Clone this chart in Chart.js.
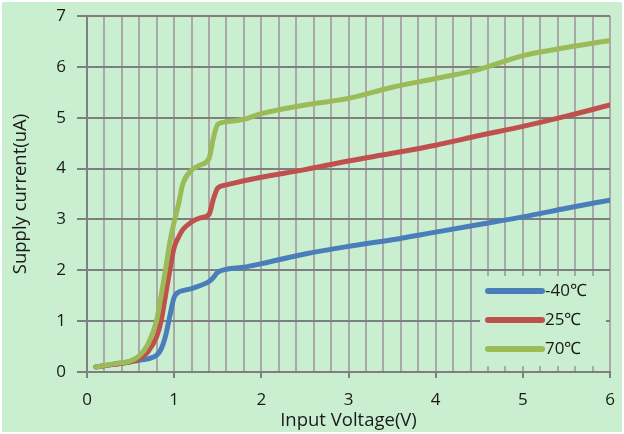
<!DOCTYPE html>
<html>
<head>
<meta charset="utf-8">
<script src="https://cdn.jsdelivr.net/npm/chart.js@4/dist/chart.umd.min.js"></script>
<style>
  html, body { margin: 0; padding: 0; background: #fff; }
  #wrap { position: absolute; left: 2px; top: 2px; width: 620px; height: 430px; background: #c9efd0; }
</style>
</head>
<body>
<div id="wrap"><canvas id="chart" width="620" height="430"></canvas></div>
<script>
/* global Chart */

const VOLTAGE = [0.1, 0.3, 0.5, 0.6, 0.7, 0.8, 0.85, 0.9, 0.95, 1.0, 1.05, 1.1, 1.2, 1.3, 1.4,
    1.45, 1.5, 1.6, 1.8, 2.0, 2.5, 3, 3.5, 4, 4.5, 5, 5.5, 6];

const CURRENT_M40 = [0.1, 0.15, 0.2, 0.23, 0.26, 0.33, 0.45, 0.7, 1.1, 1.47, 1.57, 1.6, 1.64, 1.7, 1.78,
    1.86, 1.96, 2.02, 2.06, 2.13, 2.32, 2.47, 2.6, 2.75, 2.9, 3.05, 3.22, 3.38];
const CURRENT_25 = [0.1, 0.15, 0.2, 0.26, 0.4, 0.7, 1.0, 1.5, 2.0, 2.45, 2.65, 2.8, 2.95, 3.03, 3.1,
    3.4, 3.62, 3.68, 3.76, 3.83, 3.98, 4.15, 4.3, 4.46, 4.65, 4.83, 5.03, 5.25];
const CURRENT_70 = [0.1, 0.16, 0.22, 0.32, 0.55, 1.02, 1.5, 2.0, 2.55, 2.95, 3.3, 3.7, 3.97, 4.07, 4.2,
    4.6, 4.87, 4.92, 4.97, 5.08, 5.25, 5.38, 5.6, 5.77, 5.95, 6.22, 6.38, 6.52];

const SERIES_LABELS = ['-40℃', '25℃', '70℃'];
const SERIES_COLORS = ['#4a7ebb', '#c0504d', '#9bbb59'];

const FONT = "'Open Sans', sans-serif";
const BG = '#c9efd0';
const TEXT = '#1a1a1a';

const toPoints = ys => ys.map((y, i) => ({ x: VOLTAGE[i], y }));

// legend drawn in the lower right of the plot, on a plain box hiding the grid
const insideLegend = {
    id: 'insideLegend',
    beforeDatasetsDraw(chart) {
        const { ctx, chartArea } = chart;
        ctx.save();
        ctx.fillStyle = BG;
        ctx.fillRect(chartArea.right - 130, chartArea.bottom - 96, 126, 90);
        ctx.restore();
    },
    afterDatasetsDraw(chart) {
        const { ctx, chartArea } = chart;
        const x0 = chartArea.right - 122, y0 = chartArea.bottom - 81;
        ctx.save();
        ctx.font = `17px ${FONT}`;
        ctx.textBaseline = 'middle';
        chart.data.datasets.forEach((ds, i) => {
            const y = y0 + i * 29;
            ctx.strokeStyle = ds.borderColor;
            ctx.lineWidth = 6;
            ctx.lineCap = 'round';
            ctx.beginPath();
            ctx.moveTo(x0, y);
            ctx.lineTo(x0 + 54, y);
            ctx.stroke();
            ctx.fillStyle = TEXT;
            ctx.fillText(ds.label, x0 + 57, y);
        });
        ctx.restore();
    }
};

new Chart(document.getElementById('chart'), {
    type: 'line',
    data: {
        datasets: [
            { label: SERIES_LABELS[0], data: toPoints(CURRENT_M40), borderColor: SERIES_COLORS[0], order: 3 },
            { label: SERIES_LABELS[1], data: toPoints(CURRENT_25), borderColor: SERIES_COLORS[1], order: 2 },
            { label: SERIES_LABELS[2], data: toPoints(CURRENT_70), borderColor: SERIES_COLORS[2], order: 1 },
        ]
    },
    options: {
        responsive: false,
        animation: false,
        layout: { padding: { left: 0, top: 14, right: 12, bottom: 0 } },
        elements: {
            point: { radius: 0 },
            line: { borderWidth: 5, cubicInterpolationMode: 'monotone', borderCapStyle: 'round', borderJoinStyle: 'round' }
        },
        scales: {
            x: {
                type: 'linear',
                min: 0, max: 6,
                afterFit(s) { s.height = 60; s.paddingLeft = 0; s.paddingRight = 0; },
                grid: {
                    color: '#a9a9a9',
                    lineWidth: 2,
                    tickLength: 6,
                    tickColor: c => Math.abs(c.tick.value - Math.round(c.tick.value)) < 1e-6 ? '#7f7f7f' : 'rgba(0,0,0,0)',
                },
                border: { color: '#7f7f7f', width: 2 },
                ticks: {
                    stepSize: 0.2,
                    autoSkip: false,
                    maxRotation: 0,
                    padding: 12,
                    color: TEXT,
                    font: { family: FONT, size: 17 },
                    callback: v => Math.abs(v - Math.round(v)) < 1e-6 ? String(Math.round(v)) : ''
                },
                title: {
                    display: true,
                    text: 'Input Voltage(V)',
                    color: TEXT,
                    font: { family: FONT, size: 18.5 },
                    padding: { top: 0, bottom: 0 }
                }
            },
            y: {
                min: 0, max: 7,
                afterFit(s) { s.width = 85; s.paddingTop = 0; s.paddingBottom = 0; },
                grid: { color: '#7f7f7f', lineWidth: 2, tickLength: 10 },
                border: { color: '#7f7f7f', width: 2 },
                ticks: {
                    stepSize: 1,
                    padding: 11,
                    color: TEXT,
                    font: { family: FONT, size: 17 }
                },
                title: {
                    display: true,
                    text: 'Supply current(uA)',
                    color: TEXT,
                    font: { family: FONT, size: 18.5 },
                    padding: { top: 8, bottom: 0 }
                }
            }
        },
        plugins: {
            legend: { display: false },
            tooltip: { enabled: false }
        }
    },
    plugins: [insideLegend]
});
</script>
</body>
</html>
